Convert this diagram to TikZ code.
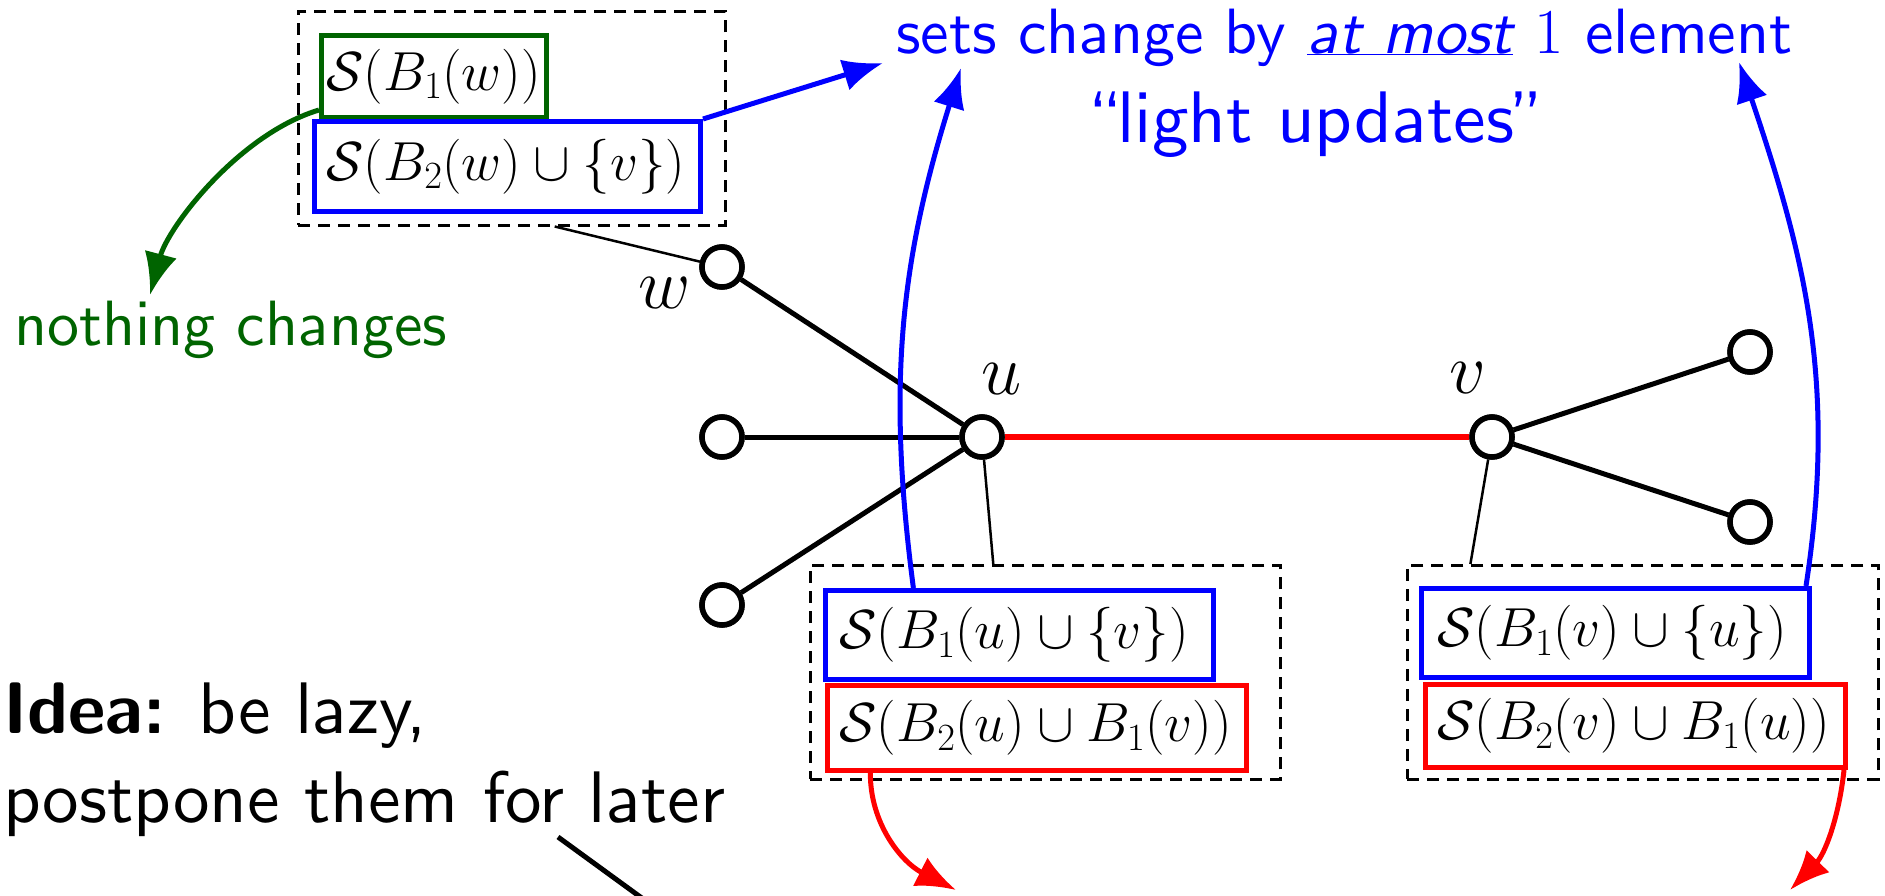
\RequirePackage{fix-cm}
\documentclass[tikz,border=0pt]{standalone}
\usetikzlibrary{arrows.meta,calc}
\DeclareFontFamily{OT1}{myss}{}
\DeclareFontShape{OT1}{myss}{m}{n}{<->cmss10}{}
\DeclareFontShape{OT1}{myss}{m}{sl}{<->cmssi10}{}
\DeclareFontShape{OT1}{myss}{bx}{n}{<->cmssbx10}{}
\DeclareFontShape{OT1}{myss}{b}{n}{<->ssub * myss/bx/n}{}
\definecolor{dgreen}{RGB}{0,100,0}
\definecolor{pblue}{RGB}{0,0,255}
\definecolor{pred}{RGB}{255,0,0}
\newcommand{\mathsz}{\fontsize{55}{66}\selectfont}
\newcommand{\lblsz}{\fontsize{72}{86}\selectfont}
\newcommand{\medsz}{\fontencoding{OT1}\fontfamily{myss}\fontseries{m}\fontshape{n}\fontsize{64}{76}\selectfont}
\newcommand{\bigsz}{\fontencoding{OT1}\fontfamily{myss}\fontseries{m}\fontshape{n}\fontsize{73}{89}\selectfont}
\begin{document}
\begin{tikzpicture}[x=1pt,y=1pt,
  vert/.style={circle, draw, line width=5.5pt, minimum size=40pt, inner sep=0pt, fill=white},
  gedge/.style={line width=5pt},
  thinline/.style={line width=2.5pt},
  dbox/.style={draw, line width=2.5pt, dash pattern=on 12pt off 8pt, anchor=north west, inner sep=0pt},
  sbox/.style={draw, line width=5pt, anchor=north west, inner ysep=0pt, align=left, font=\mathsz},
  lbl/.style={font=\lblsz, inner sep=0pt},
  barrow/.style={line width=5pt, pblue, -{Latex[length=40pt,width=32pt]}},
  garrow/.style={line width=5pt, dgreen, -{Latex[length=42pt,width=33pt]}},
  rarrow/.style={line width=5pt, pred, -{Latex[length=40pt,width=32pt]}},
]
\useasboundingbox (0,0) rectangle (1885,-895);

% dashed boxes
\node[dbox, minimum width=427, minimum height=214] (wbox) at (297,-10) {};
\node[dbox, minimum width=470, minimum height=214] (ubox) at (809,-564) {};
\node[dbox, minimum width=471, minimum height=214] (vbox) at (1406,-564) {};

% set boxes
\node[sbox, draw=dgreen, inner xsep=5pt, text width=215pt, minimum height=82] (gw1) at (319,-33) {$\mathcal{S}(B_1(w))$};
\node[sbox, draw=pblue, inner xsep=12pt, text width=362pt, minimum height=90] (bw2) at (312,-119) {$\mathcal{S}(B_2(w)\cup\{v\})$};
\node[sbox, draw=pblue, inner xsep=14pt, text width=360pt, minimum height=89] (bu1) at (823,-588) {$\mathcal{S}(B_1(u)\cup\{v\})$};
\node[sbox, draw=pred, inner xsep=12pt, text width=395pt, minimum height=85] (ru2) at (825,-683) {$\mathcal{S}(B_2(u)\cup B_1(v))$};
\node[sbox, draw=pblue, inner xsep=16pt, text width=356pt, minimum height=89] (bv1) at (1419,-586) {$\mathcal{S}(B_1(v)\cup\{u\})$};
\node[sbox, draw=pred, inner xsep=12pt, text width=396pt, minimum height=83] (rv2) at (1423,-682) {$\mathcal{S}(B_2(v)\cup B_1(u))$};

% graph vertices
\node[vert] (w) at (722,-267) {};
\node[vert] (l2) at (722,-437) {};
\node[vert] (l3) at (722,-605) {};
\node[vert] (u) at (982,-437) {};
\node[vert] (v) at (1492,-437) {};
\node[vert] (r1) at (1750,-352) {};
\node[vert] (r2) at (1750,-522) {};

\node[lbl] (wl) at (665,-293) {$w$};
\node[lbl] (ul) at (1002,-379) {$u$};
\node[lbl] (vl) at (1468,-378) {$v$};

% edges
\draw[gedge] (w) -- (u);
\draw[gedge] (l2) -- (u);
\draw[gedge] (l3) -- (u);
\draw[gedge, pred, line width=6pt] (u) -- (v);
\draw[gedge] (v) -- (r1);
\draw[gedge] (v) -- (r2);
\foreach \n in {w,l2,l3,u,v,r1,r2} \node[vert] at (\n) {};

% thin connectors to the dashed boxes
\draw[thinline] (w) -- ($(wbox.south west)!0.6!(wbox.south east)$);
\draw[thinline] (u) -- ($(ubox.north west)!0.39!(ubox.north east)$);
\draw[thinline] (v) -- ($(vbox.north west)!0.136!(vbox.north east)$);

% texts
\node[anchor=base west, inner sep=0pt, font=\medsz, text=pblue] (sets) at (896,-53)
  {sets change by \underline{\slshape at most} $1$ element};
\node[anchor=base, inner sep=0pt, font=\bigsz, text=pblue] (light) at (1316,-142) {``light updates''};
\node[anchor=base west, inner sep=0pt, font=\medsz, text=dgreen] (nothing) at (14,-345) {nothing changes};
\node[anchor=base west, inner sep=0pt, font=\bigsz, align=left] (idea) at (3,-822)
  {\textbf{Idea:} be lazy,\\ postpone them for later};

% arrow ends
\coordinate (tipA) at (883,-63);
\coordinate (tipB) at (961,-68);
\coordinate (tipC) at (1739,-62);
\coordinate (tipG) at (150,-295);
\coordinate (tipR1) at (956,-890);
\coordinate (tipR2) at (1790,-890);
\coordinate (laterA) at (558,-837);
\coordinate (laterB) at (672,-920);

% arrows
\draw[barrow] (bw2.north east) -- (tipA);
\draw[barrow] ($(bu1.north west)!0.23!(bu1.north east)$) .. controls (887,-386) and (900,-263) .. (tipB);
\draw[barrow] ($(bv1.north east)+(-6,0)$) .. controls (1837,-383) and (1805,-257) .. (tipC);
\draw[garrow] ($(gw1.south west)+(0,10)$) .. controls (239,-134) and (168,-227) .. (tipG);
\draw[rarrow] ($(ru2.south west)!0.107!(ru2.south east)$) .. controls (870,-823) and (901,-862) .. (tipR1);
\draw[rarrow] ($(rv2.south east)+(-4,0)$) .. controls (1839,-817) and (1825,-854) .. (tipR2);
\draw[gedge] (laterA) -- (laterB);
\end{tikzpicture}
\end{document}
